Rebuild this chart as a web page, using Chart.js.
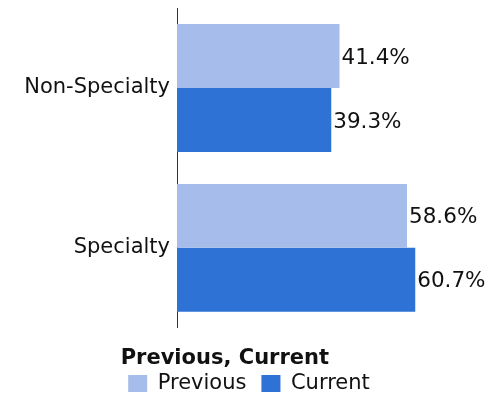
<!DOCTYPE html>
<html>
<head>
<meta charset="utf-8">
<script src="https://cdn.jsdelivr.net/npm/chart.js@4/dist/chart.umd.min.js"></script>
<style>
  html, body { margin: 0; padding: 0; background: #fff; }
  #wrap { width: 499px; height: 394px; }
</style>
</head>
<body>
<div id="wrap"><canvas id="chart"></canvas></div>
<script>
var categories = ["Non-Specialty", "Specialty"];
var previousValues = [41.4, 58.6];
var currentValues = [39.3, 60.7];
var seriesNames = ["Previous", "Current"];

var lightBlue = "rgb(166, 188, 235)";
var darkBlue = "rgb(46, 114, 214)";

// writes the value as a percent just past the end of each bar
var valueLabels = {
    id: "valueLabels",
    afterDatasetsDraw: function (chart) {
        var ctx = chart.ctx;
        ctx.save();
        ctx.font = "21.5px 'DejaVu Sans'";
        ctx.fillStyle = "#111";
        ctx.textAlign = "left";
        ctx.textBaseline = "middle";
        chart.data.datasets.forEach(function (ds, i) {
            chart.getDatasetMeta(i).data.forEach(function (bar, j) {
                ctx.fillText(ds.data[j].toFixed(1) + "%", bar.x + 2, bar.y + 2);
            });
        });
        ctx.restore();
    }
};

Chart.defaults.font.family = "'DejaVu Sans'";
Chart.defaults.color = "#111";

new Chart(document.getElementById("chart"), {
    type: "bar",
    data: {
        labels: categories,
        datasets: [
            { label: seriesNames[0], data: previousValues, backgroundColor: lightBlue },
            { label: seriesNames[1], data: currentValues, backgroundColor: darkBlue }
        ]
    },
    options: {
        indexAxis: "y",
        responsive: true,
        maintainAspectRatio: false,
        animation: false,
        categoryPercentage: 0.8,
        barPercentage: 1,
        layout: { padding: { top: 8, right: 8, left: 7, bottom: -10 } },
        scales: {
            x: { display: false, min: 0, max: 80 },
            y: {
                grid: { display: false, drawTicks: false },
                border: { display: true, color: "#333", width: 1 },
                ticks: { font: { size: 21 }, padding: 7, color: "#111" },
                afterFit: function (scale) {
                    scale.width = 170;
                    scale.paddingTop = 0;
                    scale.paddingBottom = 0;
                }
            }
        },
        plugins: {
            legend: {
                position: "bottom",
                title: {
                    display: true,
                    position: "start",
                    text: "Previous, Current",
                    font: { size: 21, weight: "bold" },
                    padding: { top: 20, bottom: -15 }
                },
                labels: {
                    boxWidth: 19,
                    boxHeight: 17,
                    font: { size: 21 },
                    padding: 15
                }
            },
            tooltip: { enabled: false }
        }
    },
    plugins: [valueLabels]
});
</script>
</body>
</html>
